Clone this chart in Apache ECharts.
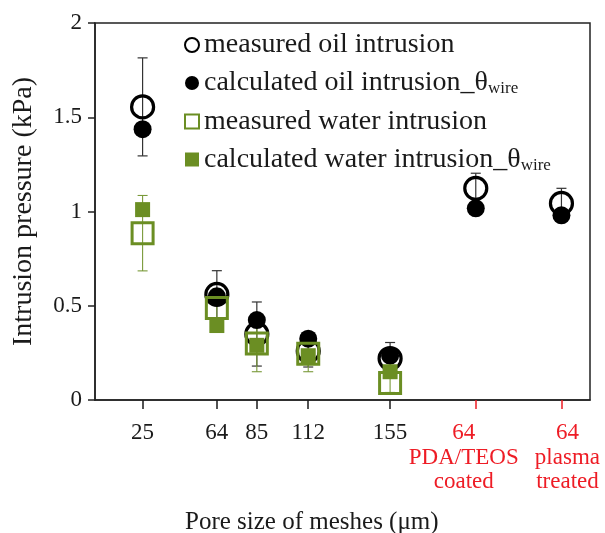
<!DOCTYPE html>
<html>
<head>
<meta charset="utf-8">
<script src="https://cdn.jsdelivr.net/npm/echarts@6/dist/echarts.min.js"></script>
<style>html,body{margin:0;padding:0;background:#fff;}#c{width:605px;height:533px;}</style>
</head>
<body>
<div id="c"></div>
<script>
// ---- data ----
const xValues = [25, 64, 85, 112, 155, 200, 245];
const tickLabels = ['25', '64', '85', '112', '155', '64\nPDA/TEOS\ncoated', '64\nplasma\ntreated'];
const yTicks = [0, 0.5, 1, 1.5, 2];
const oilMeasured = [1.555, 0.56, 0.35, 0.26, 0.22, 1.123, 1.043];
const oilMeasuredErr = [0.26, 0.126, 0.17, 0.085, 0.085, 0.08, 0.08];
const oilCalc = [1.437, 0.55, 0.424, 0.325, 0.235, 1.017, 0.98];
const waterMeasured = [0.885, 0.488, 0.30, 0.245, 0.09];
const waterMeasuredErr = [0.2, 0.1, 0.15, 0.095, 0.05];
const waterCalc = [1.01, 0.395, 0.29, 0.235, 0.15];

const FONT = 'Liberation Serif';
const GREEN = '#6b8e23';
const RED = '#ee1c25';
const TXT = '#1a1a1a';

const pts = (vals) => vals.map((v, i) => [xValues[i], v]);
const errs = (vals, e) => vals.map((v, i) => [xValues[i], v - e[i], v + e[i]]);

function errRender(color, width) {
  return function (params, api) {
    const x = api.value(0), lo = api.value(1), hi = api.value(2);
    const a = api.coord([x, lo]), b = api.coord([x, hi]);
    const cap = 5;
    const st = { stroke: color, lineWidth: width };
    return {
      type: 'group',
      children: [
        { type: 'line', shape: { x1: a[0], y1: a[1], x2: b[0], y2: b[1] }, style: st },
        { type: 'line', shape: { x1: a[0] - cap, y1: a[1], x2: a[0] + cap, y2: a[1] }, style: st },
        { type: 'line', shape: { x1: b[0] - cap, y1: b[1], x2: b[0] + cap, y2: b[1] }, style: st }
      ]
    };
  };
}

const nMain = 5;
function makeXAxis(vals, color, showLine, pad) {
  return {
    type: 'value', min: 0, max: 260, position: 'bottom',
    splitLine: { show: false },
    axisLine: { show: showLine, lineStyle: { color: '#222', width: 1.5 } },
    axisTick: { show: true, inside: false, length: 9, lineStyle: { color: color, width: 1.5 }, customValues: vals },
    axisLabel: {
      customValues: vals,
      formatter: v => tickLabels[xValues.indexOf(v)],
      fontFamily: FONT, fontSize: 23, color: color, margin: 21, lineHeight: 24.5,
      padding: pad,
      hideOverlap: false, showMinLabel: true, showMaxLabel: true
    }
  };
}
const redPads = [[0, 24, 0, 0], [0, 0, 0, 12]];
const xAxes = [makeXAxis(xValues.slice(0, nMain), TXT, true, 0)];
xValues.slice(nMain).forEach((v, i) => xAxes.push(makeXAxis([v], RED, false, redPads[i])));

const chart = echarts.init(document.getElementById('c'), null, { renderer: 'canvas' });
chart.setOption({
  animation: false,
  backgroundColor: '#fff',
  title: {
    text: 'Pore size of meshes (μm)',
    left: 180, top: 505,
    textStyle: { fontFamily: FONT, fontSize: 25, fontWeight: 'normal', color: TXT }
  },
  grid: { left: 95, right: 15, top: 23, bottom: 133, show: true, borderColor: '#222', borderWidth: 1.5, backgroundColor: 'transparent' },
  legend: {
    orient: 'vertical', left: 179, top: 26,
    itemWidth: 14, itemHeight: 14, itemGap: 10,
    data: [
      { name: 'measured oil intrusion', itemStyle: { borderWidth: 2 } },
      { name: 'calculated oil intrusion_θwire' },
      { name: 'measured water intrusion', itemStyle: { borderWidth: 2 } },
      { name: 'calculated water intrusion_θwire' }
    ],
    formatter: n => n.endsWith('wire') ? n.slice(0, -4) + '{sub|wire}' : n,
    textStyle: {
      fontFamily: FONT, fontSize: 28, color: TXT, lineHeight: 28,
      rich: { sub: { fontFamily: FONT, fontSize: 17, color: TXT, padding: [12, 0, 0, 0] } }
    }
  },
  xAxis: xAxes,
  yAxis: {
    type: 'value', min: 0, max: 2, interval: 0.5,
    name: 'Intrusion pressure (kPa)', nameLocation: 'middle', nameGap: 57,
    nameTextStyle: { fontFamily: FONT, fontSize: 28, color: TXT },
    splitLine: { show: false },
    axisLine: { show: true, lineStyle: { color: '#222', width: 1.5 } },
    axisTick: { show: true, inside: false, length: 7, lineStyle: { color: '#222', width: 1.5 } },
    axisLabel: {
      fontFamily: FONT, fontSize: 23, color: TXT, margin: 13,
      formatter: v => yTicks.indexOf(v) >= 0 ? String(v) : ''
    }
  },
  series: [
    { type: 'custom', name: 'oilErr', renderItem: errRender('#333', 1.2), data: errs(oilMeasured, oilMeasuredErr), z: 1, silent: true },
    { type: 'custom', name: 'waterErr', renderItem: errRender('#7a9a3a', 1.1), data: errs(waterMeasured, waterMeasuredErr), z: 1, silent: true },
    {
      type: 'scatter', name: 'measured oil intrusion', data: pts(oilMeasured),
      symbol: 'circle', symbolSize: 22, z: 2,
      itemStyle: { color: 'rgba(0,0,0,0)', borderColor: '#000', borderWidth: 3.2, opacity: 1 }
    },
    {
      type: 'scatter', name: 'calculated oil intrusion_θwire', data: pts(oilCalc),
      symbol: 'circle', symbolSize: 18, z: 3,
      itemStyle: { color: '#000', opacity: 1 }
    },
    {
      type: 'scatter', name: 'measured water intrusion', data: pts(waterMeasured),
      symbol: 'rect', symbolSize: 21, z: 4,
      itemStyle: { color: 'rgba(0,0,0,0)', borderColor: GREEN, borderWidth: 3, opacity: 1 }
    },
    {
      type: 'scatter', name: 'calculated water intrusion_θwire', data: pts(waterCalc),
      symbol: 'rect', symbolSize: 15, z: 5,
      itemStyle: { color: GREEN, opacity: 1 }
    }
  ]
});
</script>
</body>
</html>
